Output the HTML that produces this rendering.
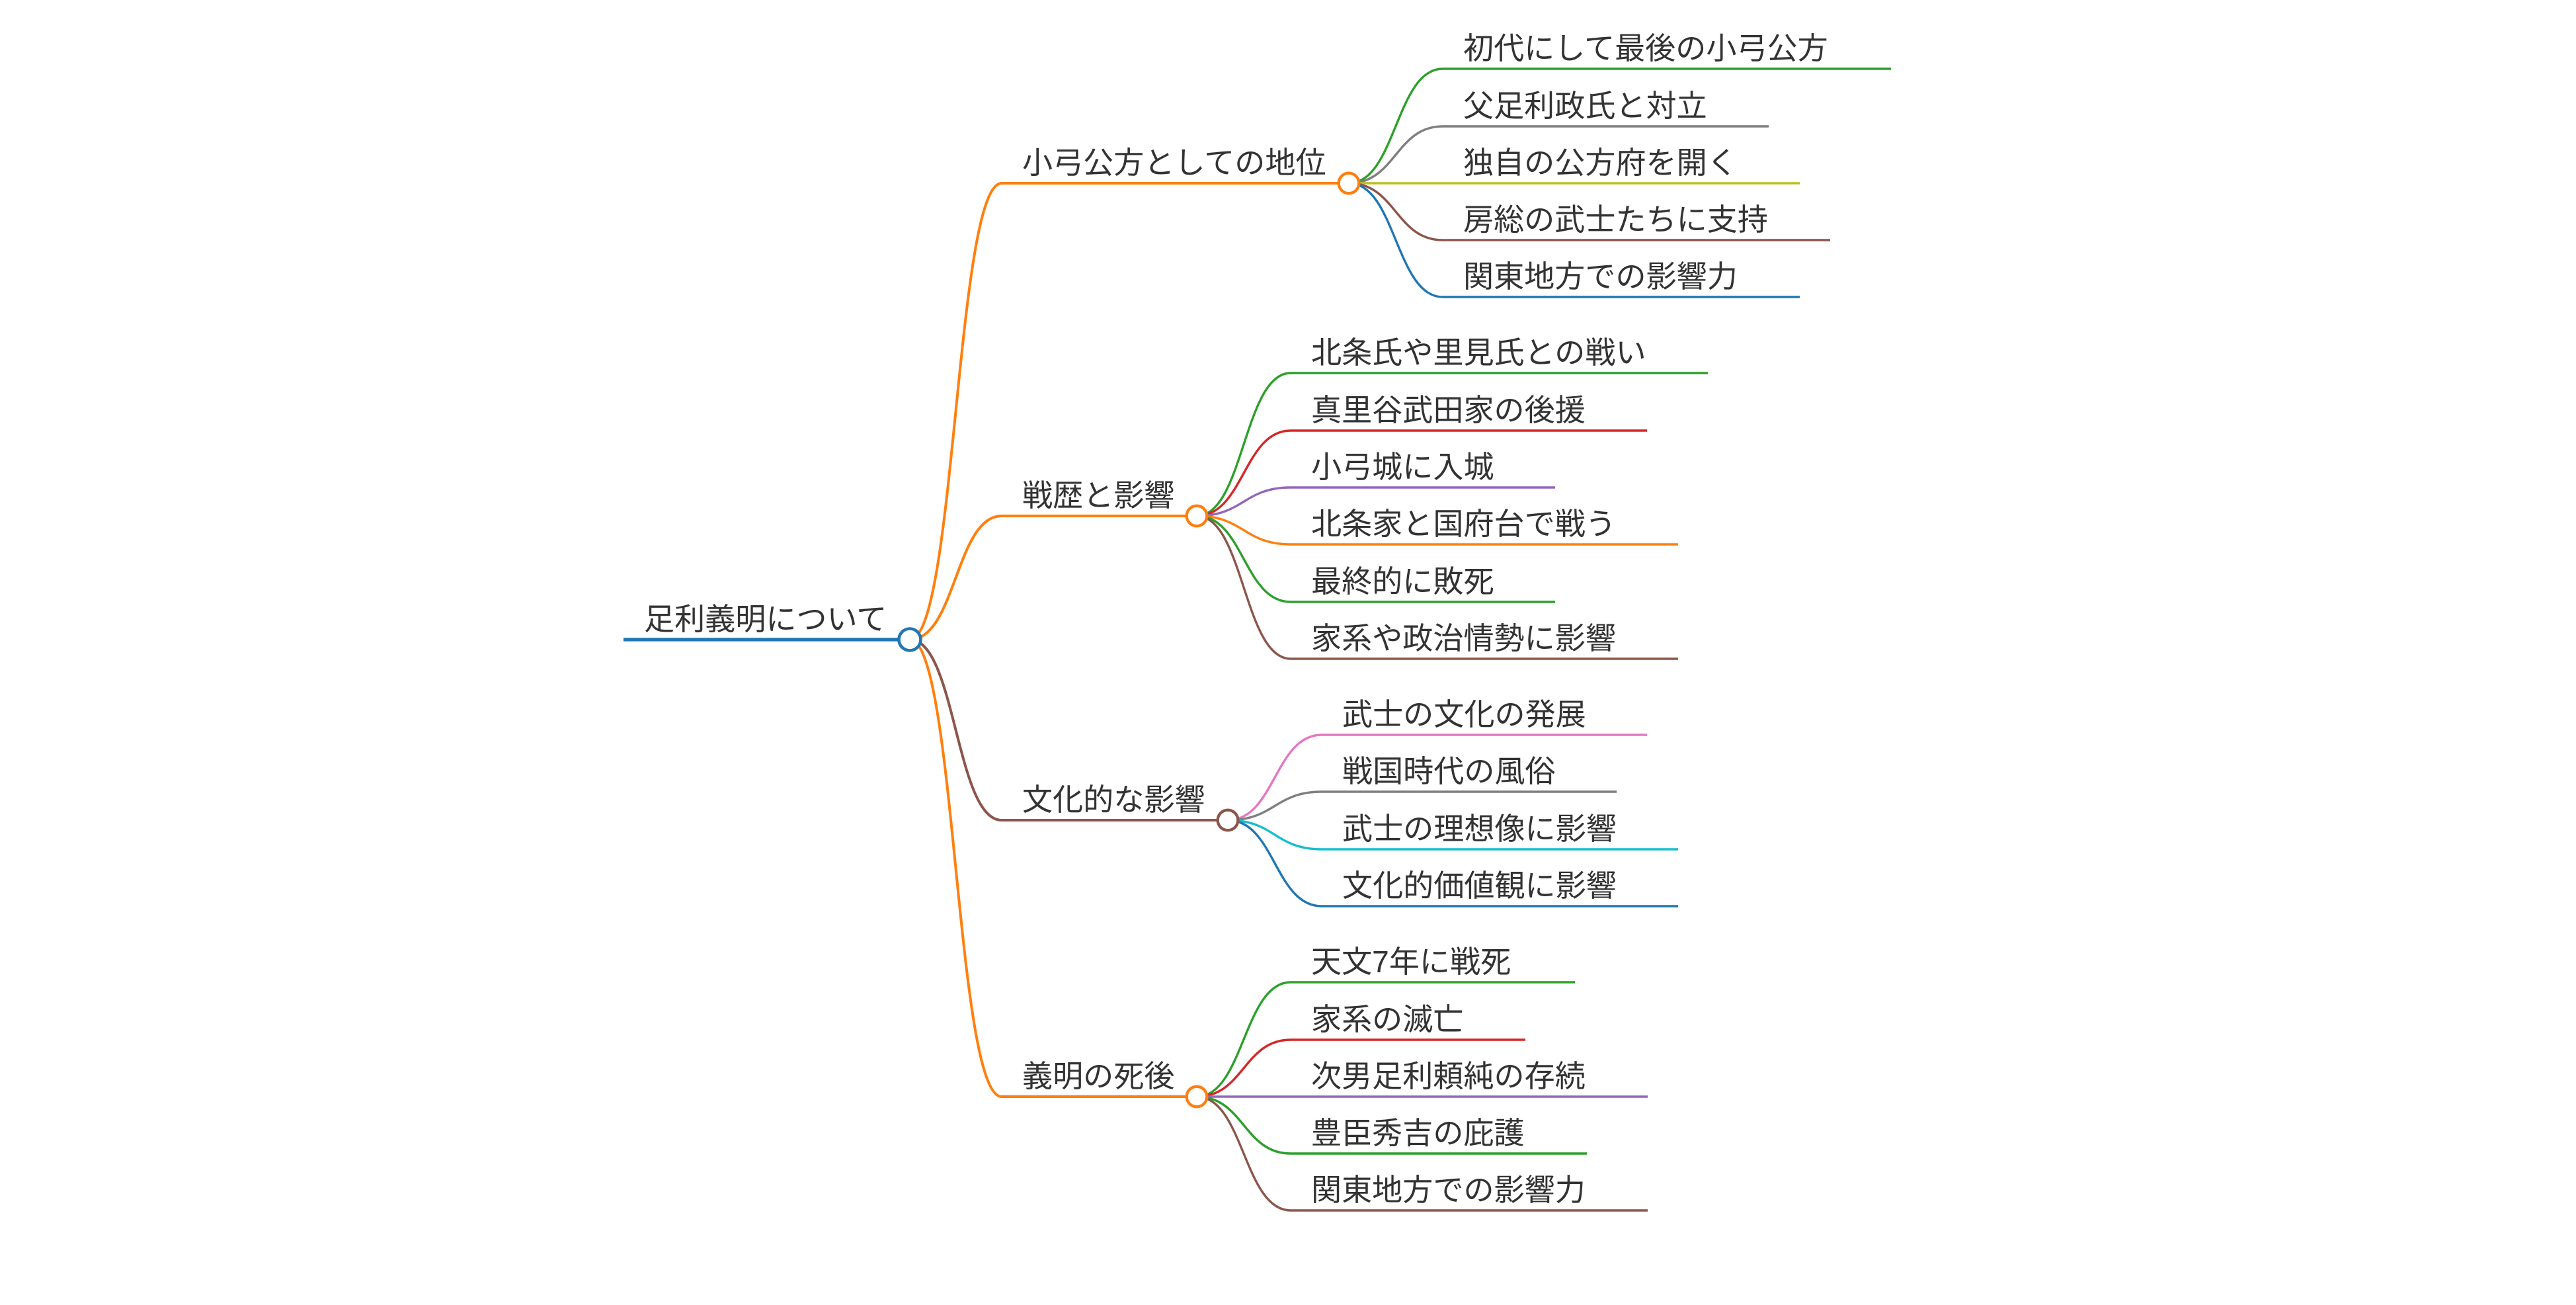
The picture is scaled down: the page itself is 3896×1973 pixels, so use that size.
<!DOCTYPE html>
<html><head><meta charset="utf-8">
<style>
html,body{margin:0;padding:0;background:#fff;}
svg{display:block;}
text{font-family:"Liberation Sans","Noto Sans CJK JP",sans-serif;font-size:46.1px;fill:#333;}
</style></head>
<body>
<svg width="3896" height="1973" viewBox="0 0 3896 1973" xmlns="http://www.w3.org/2000/svg">
<rect width="3896" height="1973" fill="#fff"/>
<g fill="none" stroke-linecap="butt">
<!-- root to branches -->
<path d="M1376,967 C1445.5,967 1445.5,277 1515,277" stroke="#ff7f0e" stroke-width="4"/>
<path d="M1376,967 C1445.5,967 1445.5,780 1515,780" stroke="#ff7f0e" stroke-width="4"/>
<path d="M1376,967 C1445.5,967 1445.5,1240 1515,1240" stroke="#8c564b" stroke-width="4"/>
<path d="M1376,967 C1445.5,967 1445.5,1658 1515,1658" stroke="#ff7f0e" stroke-width="4"/>
<!-- branch lines -->
<line x1="943" y1="967" x2="1376" y2="967" stroke="#1f77b4" stroke-width="5.3"/>
<line x1="1515" y1="277" x2="2040" y2="277" stroke="#ff7f0e" stroke-width="4"/>
<line x1="1515" y1="780" x2="1810" y2="780" stroke="#ff7f0e" stroke-width="4"/>
<line x1="1515" y1="1240" x2="1857" y2="1240" stroke="#8c564b" stroke-width="4"/>
<line x1="1515" y1="1658" x2="1810" y2="1658" stroke="#ff7f0e" stroke-width="4"/>

<!-- B1 children -->
<path d="M2040,277 C2111,277 2111,104 2182,104 L2860,104" stroke="#2ca02c" stroke-width="3.4"/>
<path d="M2040,277 C2111,277 2111,191 2182,191 L2675,191" stroke="#7f7f7f" stroke-width="3.4"/>
<path d="M2040,277 L2722,277" stroke="#bcbd22" stroke-width="3.4"/>
<path d="M2040,277 C2111,277 2111,363 2182,363 L2768,363" stroke="#8c564b" stroke-width="3.4"/>
<path d="M2040,277 C2111,277 2111,449 2182,449 L2722,449" stroke="#1f77b4" stroke-width="3.4"/>

<!-- B2 children -->
<path d="M1810,780 C1881,780 1881,564 1952,564 L2583,564" stroke="#2ca02c" stroke-width="3.4"/>
<path d="M1810,780 C1881,780 1881,651 1952,651 L2491,651" stroke="#d62728" stroke-width="3.4"/>
<path d="M1810,780 C1881,780 1881,737 1952,737 L2352,737" stroke="#9467bd" stroke-width="3.4"/>
<path d="M1810,780 C1881,780 1881,823 1952,823 L2538,823" stroke="#ff7f0e" stroke-width="3.4"/>
<path d="M1810,780 C1881,780 1881,910 1952,910 L2352,910" stroke="#2ca02c" stroke-width="3.4"/>
<path d="M1810,780 C1881,780 1881,996 1952,996 L2538,996" stroke="#8c564b" stroke-width="3.4"/>

<!-- B3 children -->
<path d="M1857,1240 C1928,1240 1928,1111 1999,1111 L2491,1111" stroke="#e377c2" stroke-width="3.4"/>
<path d="M1857,1240 C1928,1240 1928,1197 1999,1197 L2445,1197" stroke="#7f7f7f" stroke-width="3.4"/>
<path d="M1857,1240 C1928,1240 1928,1284 1999,1284 L2538,1284" stroke="#17becf" stroke-width="3.4"/>
<path d="M1857,1240 C1928,1240 1928,1370 1999,1370 L2538,1370" stroke="#1f77b4" stroke-width="3.4"/>

<!-- B4 children -->
<path d="M1810,1658 C1881,1658 1881,1485 1952,1485 L2382,1485" stroke="#2ca02c" stroke-width="3.4"/>
<path d="M1810,1658 C1881,1658 1881,1572 1952,1572 L2307,1572" stroke="#d62728" stroke-width="3.4"/>
<path d="M1810,1658 L2492,1658" stroke="#9467bd" stroke-width="3.4"/>
<path d="M1810,1658 C1881,1658 1881,1744 1952,1744 L2400,1744" stroke="#2ca02c" stroke-width="3.4"/>
<path d="M1810,1658 C1881,1658 1881,1830 1952,1830 L2492,1830" stroke="#8c564b" stroke-width="3.4"/>
</g>

<!-- circles -->
<circle cx="1376" cy="967" r="16.5" fill="#fff" stroke="#1f77b4" stroke-width="4.6"/>
<circle cx="2040" cy="277" r="15.3" fill="#fff" stroke="#ff7f0e" stroke-width="4.3"/>
<circle cx="1810" cy="780" r="15.3" fill="#fff" stroke="#ff7f0e" stroke-width="4.3"/>
<circle cx="1857" cy="1240" r="15.3" fill="#fff" stroke="#8c564b" stroke-width="4.3"/>
<circle cx="1810" cy="1658" r="15.3" fill="#fff" stroke="#ff7f0e" stroke-width="4.3"/>

<!-- texts -->
<text x="974" y="952">足利義明について</text>
<text x="1546" y="262">小弓公方としての地位</text>
<text x="1546" y="765">戦歴と影響</text>
<text x="1546" y="1225">文化的な影響</text>
<text x="1546" y="1643">義明の死後</text>

<text x="2213" y="89">初代にして最後の小弓公方</text>
<text x="2213" y="176">父足利政氏と対立</text>
<text x="2213" y="262">独自の公方府を開く</text>
<text x="2213" y="348">房総の武士たちに支持</text>
<text x="2213" y="434">関東地方での影響力</text>

<text x="1983" y="549">北条氏や里見氏との戦い</text>
<text x="1983" y="636">真里谷武田家の後援</text>
<text x="1983" y="722">小弓城に入城</text>
<text x="1983" y="808">北条家と国府台で戦う</text>
<text x="1983" y="895">最終的に敗死</text>
<text x="1983" y="981">家系や政治情勢に影響</text>

<text x="2030" y="1096">武士の文化の発展</text>
<text x="2030" y="1182">戦国時代の風俗</text>
<text x="2030" y="1269">武士の理想像に影響</text>
<text x="2030" y="1355">文化的価値観に影響</text>

<text x="1983" y="1470">天文7年に戦死</text>
<text x="1983" y="1557">家系の滅亡</text>
<text x="1983" y="1643">次男足利頼純の存続</text>
<text x="1983" y="1729">豊臣秀吉の庇護</text>
<text x="1983" y="1815">関東地方での影響力</text>
</svg>
</body></html>
